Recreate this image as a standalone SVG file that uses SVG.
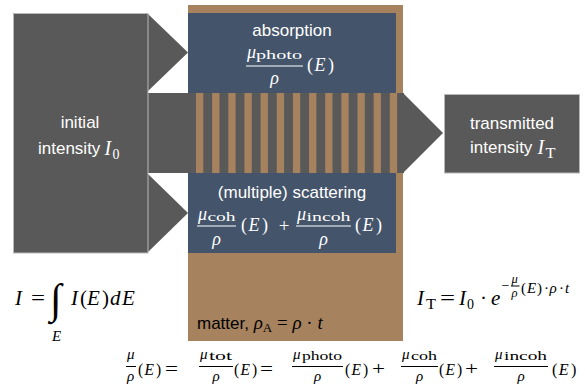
<svg xmlns="http://www.w3.org/2000/svg" width="585" height="392" viewBox="0 0 585 392">
<style>
.sans{font-family:"Liberation Sans",Arial,sans-serif;font-size:17px}
.w{fill:#fff}
.k{fill:#000}
.mi{font-family:"Liberation Serif","Times New Roman",serif;font-style:italic}
.mr{font-family:"Liberation Serif","Times New Roman",serif;font-style:normal}
.gray{fill:#595959}
.brown{fill:#A6825F}
.blue{fill:#44546A}
.lw{stroke:#fff;stroke-width:1.2}
.lk{stroke:#000;stroke-width:1}
</style>
<defs>
<g id="pE"><text class="mr" font-size="18"><tspan x="0">(</tspan><tspan class="mi" x="7.5">E</tspan><tspan x="21">)</tspan></text></g>
</defs>
<rect width="585" height="392" fill="#fff"/>

<g id="matter">
<rect class="brown" x="188" y="5" width="215" height="336"/>
<text class="sans k" x="197" y="329">matter, <tspan class="mi" font-size="19">ρ</tspan><tspan class="mr" font-size="13" dy="3">A</tspan><tspan class="mr" font-size="19" dy="-3"> = </tspan><tspan class="mi" font-size="19">ρ</tspan><tspan class="mr" font-size="19"> · </tspan><tspan class="mi" font-size="19">t</tspan></text>
</g>

<g id="absorption">
<rect class="blue" x="188" y="13" width="208" height="80"/>
<text class="sans w" x="292" y="35.5" text-anchor="middle">absorption</text>
<text class="mi w" x="247" y="58" font-size="18">μ</text>
<text class="mr w" x="256" y="58.5" font-size="13" textLength="46" lengthAdjust="spacingAndGlyphs">photo</text>
<line class="lw" x1="246" y1="66" x2="303" y2="66"/>
<text class="mi w" x="274.5" y="84" font-size="18" text-anchor="middle">ρ</text>
<use href="#pE" fill="#fff" transform="translate(307,71)"/>
</g>

<g id="scattering">
<rect class="blue" x="188" y="173" width="208" height="80"/>
<text class="sans w" x="292" y="197.5" text-anchor="middle">(multiple) scattering</text>
<text class="mi w" x="198" y="220" font-size="18">μ</text>
<text class="mr w" x="207.5" y="220.5" font-size="13" textLength="28" lengthAdjust="spacingAndGlyphs">coh</text>
<line class="lw" x1="197" y1="226" x2="236" y2="226"/>
<text class="mi w" x="216.5" y="245" font-size="18" text-anchor="middle">ρ</text>
<use href="#pE" fill="#fff" transform="translate(241,231)"/>
<text class="mr w" x="284" y="232" font-size="19" text-anchor="middle">+</text>
<text class="mi w" x="297" y="220" font-size="18">μ</text>
<text class="mr w" x="306.5" y="220.5" font-size="13" textLength="44" lengthAdjust="spacingAndGlyphs">incoh</text>
<line class="lw" x1="296" y1="226" x2="351" y2="226"/>
<text class="mi w" x="323.5" y="245" font-size="18" text-anchor="middle">ρ</text>
<use href="#pE" fill="#fff" transform="translate(355,231)"/>
</g>

<g id="connectors">
<rect class="gray" x="148" y="93" width="256" height="80"/>
<g class="brown">
<rect x="196" y="93" width="7.3" height="80"/>
<rect x="212.15" y="93" width="7.3" height="80"/>
<rect x="228.3" y="93" width="7.3" height="80"/>
<rect x="244.45" y="93" width="7.3" height="80"/>
<rect x="260.6" y="93" width="7.3" height="80"/>
<rect x="276.75" y="93" width="7.3" height="80"/>
<rect x="292.9" y="93" width="7.3" height="80"/>
<rect x="309.05" y="93" width="7.3" height="80"/>
<rect x="325.2" y="93" width="7.3" height="80"/>
<rect x="341.35" y="93" width="7.3" height="80"/>
<rect x="357.5" y="93" width="7.3" height="80"/>
<rect x="373.65" y="93" width="7.3" height="80"/>
<rect x="389.8" y="93" width="7.3" height="80"/>
</g>
<polygon class="gray" points="147,13 188,52.5 147,92"/>
<polygon class="gray" points="147,173 188,213 147,253"/>
<polygon class="gray" points="403,93 443,133 403,173"/>
</g>

<g id="initial">
<rect class="gray" x="13.5" y="13.5" width="134.5" height="239.5" stroke="#b8b8b8" stroke-width="1"/>
<text class="sans w" x="80" y="128" text-anchor="middle">initial</text>
<text class="sans w" x="38" y="154">intensity</text>
<text class="mi w" x="104.5" y="155" font-size="20">I</text>
<text class="mr w" x="112.5" y="159" font-size="14">0</text>
</g>

<g id="transmitted">
<rect class="gray" x="444.5" y="94.5" width="135" height="78.5" stroke="#b8b8b8" stroke-width="1"/>
<text class="sans w" x="512" y="128.5" text-anchor="middle">transmitted</text>
<text class="sans w" x="470" y="153">intensity</text>
<text class="mi w" x="537.5" y="154" font-size="20">I</text>
<text class="mr w" x="545.5" y="158" font-size="14" textLength="10" lengthAdjust="spacingAndGlyphs">T</text>
</g>

<g id="eq-integral" class="k">
<text class="mi" x="15" y="305" font-size="21">I</text>
<text class="mr" x="31" y="305" font-size="21" textLength="14" lengthAdjust="spacingAndGlyphs">=</text>
<text class="mr" x="50" y="313" font-size="42">∫</text>
<text class="mi" x="52" y="341" font-size="15">E</text>
<text class="mi" x="71" y="305" font-size="21">I</text>
<text class="mr" x="80" y="305" font-size="21">(</text>
<text class="mi" x="87" y="305" font-size="21">E</text>
<text class="mr" x="102" y="305" font-size="21">)</text>
<text class="mi" x="110" y="305" font-size="21">d</text>
<text class="mi" x="122" y="305" font-size="21">E</text>
</g>

<g id="eq-transmission" class="k">
<text class="mi" x="417" y="305" font-size="21">I</text>
<text class="mr" x="426" y="309" font-size="14" textLength="10" lengthAdjust="spacingAndGlyphs">T</text>
<text class="mr" x="440" y="305" font-size="21" textLength="15" lengthAdjust="spacingAndGlyphs">=</text>
<text class="mi" x="459" y="305" font-size="21">I</text>
<text class="mr" x="467" y="309" font-size="14">0</text>
<text class="mr" x="480" y="305" font-size="21">·</text>
<text class="mi" x="491" y="305" font-size="21">e</text>
<text class="mr" x="501.5" y="290" font-size="14">−</text>
<text class="mi" x="511.5" y="282.5" font-size="12.5">μ</text>
<line class="lk" x1="511" y1="286" x2="519.5" y2="286" stroke-width="0.8"/>
<text class="mi" x="511.5" y="296.5" font-size="12.5">ρ</text>
<text class="mr" y="293" font-size="15"><tspan x="521">(</tspan><tspan class="mi" x="527">E</tspan><tspan x="537">)</tspan><tspan x="544">·</tspan><tspan class="mi" x="549.5">ρ</tspan><tspan x="559">·</tspan><tspan class="mi" x="565">t</tspan></text>
</g>

<g id="eq-total" class="k">
<text class="mi" x="127" y="359" font-size="15">μ</text>
<line class="lk" x1="126" y1="366.5" x2="136" y2="366.5"/>
<text class="mi" x="127" y="381" font-size="15">ρ</text>
<use href="#pE" fill="#000" transform="translate(138,375) scale(0.86,0.97)"/>
<text class="mr" x="165" y="375" font-size="19" textLength="13" lengthAdjust="spacingAndGlyphs">=</text>
<text class="mi" x="200" y="359" font-size="15">μ</text>
<text class="mr" x="209" y="359.5" font-size="12" textLength="23" lengthAdjust="spacingAndGlyphs">tot</text>
<line class="lk" x1="199" y1="366.5" x2="233" y2="366.5"/>
<text class="mi" x="216" y="381" font-size="15" text-anchor="middle">ρ</text>
<use href="#pE" fill="#000" transform="translate(234,375) scale(0.86,0.97)"/>
<text class="mr" x="260" y="375" font-size="19" textLength="13" lengthAdjust="spacingAndGlyphs">=</text>
<text class="mi" x="293" y="359" font-size="15">μ</text>
<text class="mr" x="302" y="359.5" font-size="12" textLength="40" lengthAdjust="spacingAndGlyphs">photo</text>
<line class="lk" x1="292" y1="366.5" x2="343" y2="366.5"/>
<text class="mi" x="317.5" y="381" font-size="15" text-anchor="middle">ρ</text>
<use href="#pE" fill="#000" transform="translate(345,375) scale(0.86,0.97)"/>
<text class="mr" x="372" y="375" font-size="19" textLength="13" lengthAdjust="spacingAndGlyphs">+</text>
<text class="mi" x="402" y="359" font-size="15">μ</text>
<text class="mr" x="411" y="359.5" font-size="12" textLength="26" lengthAdjust="spacingAndGlyphs">coh</text>
<line class="lk" x1="401" y1="366.5" x2="438" y2="366.5"/>
<text class="mi" x="419.5" y="381" font-size="15" text-anchor="middle">ρ</text>
<use href="#pE" fill="#000" transform="translate(439,375) scale(0.86,0.97)"/>
<text class="mr" x="465" y="375" font-size="19" textLength="13" lengthAdjust="spacingAndGlyphs">+</text>
<text class="mi" x="495" y="359" font-size="15">μ</text>
<text class="mr" x="504" y="359.5" font-size="12" textLength="43" lengthAdjust="spacingAndGlyphs">incoh</text>
<line class="lk" x1="494" y1="366.5" x2="548" y2="366.5"/>
<text class="mi" x="521" y="381" font-size="15" text-anchor="middle">ρ</text>
<use href="#pE" fill="#000" transform="translate(552,375) scale(0.9,0.97)"/>
</g>
</svg>
